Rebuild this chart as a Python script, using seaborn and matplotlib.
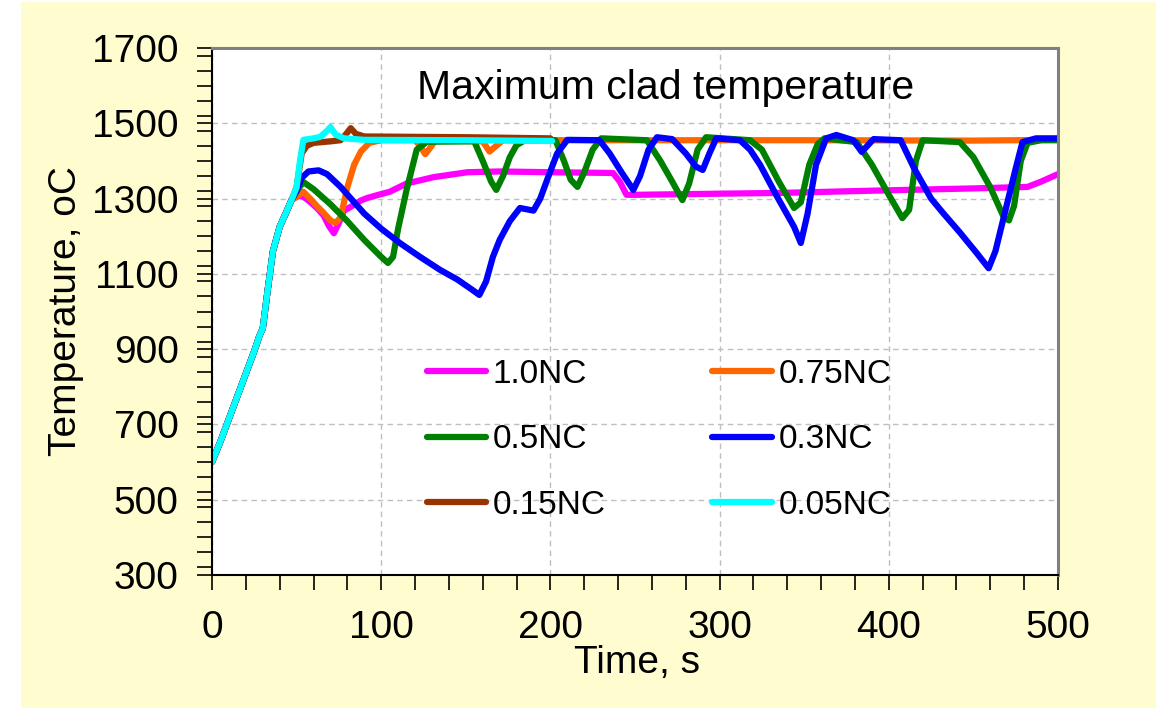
import numpy as np
import pandas as pd
import matplotlib
matplotlib.use("Agg")
import matplotlib.pyplot as plt
from matplotlib.patches import Rectangle
from matplotlib.lines import Line2D
from matplotlib.ticker import MultipleLocator
import seaborn as sns

# ---------------- data ----------------
rise_t = [0, 5, 10, 15, 20, 25, 28, 30, 33, 36, 40, 44, 47]
rise_T = [600, 655, 715, 775, 835, 895, 935, 955, 1060, 1160, 1225, 1265, 1296]

t_10 = [50, 53, 57, 62, 66, 69, 72, 75, 78, 82, 88, 92, 100, 105, 115, 131, 151, 170, 200,
        237, 241, 245, 250, 300, 336, 400, 450, 482, 490, 500]
T_10 = [1305, 1308, 1295, 1275, 1255, 1228, 1208, 1235, 1268, 1278, 1295, 1302, 1312, 1318,
        1340, 1357, 1370, 1372, 1370, 1368, 1345, 1310, 1310, 1313, 1315, 1322, 1327, 1331,
        1345, 1365]

t_075 = [50, 54, 58, 62, 66, 70, 73, 76, 80, 84, 88, 93, 100, 120, 123, 126, 129, 132, 160,
         164, 168, 172, 250, 350, 450, 500]
T_075 = [1305, 1318, 1300, 1280, 1262, 1242, 1235, 1250, 1330, 1390, 1425, 1448, 1455, 1455,
         1440, 1418, 1435, 1455, 1452, 1425, 1440, 1455, 1455, 1455, 1454, 1456]

t_05 = [50, 54, 60, 70, 80, 90, 100, 104, 107, 110, 115, 121, 127, 155, 160, 165, 168, 172,
        176, 180, 185, 203, 208, 212, 216, 220, 225, 230, 257, 265, 272, 278, 282, 287, 292,
        318, 325, 335, 344, 348, 353, 358, 362, 381, 390, 400, 408, 412, 416, 420, 442, 450,
        460, 468, 471, 474, 478, 482, 490, 500]
T_05 = [1320, 1344, 1325, 1285, 1240, 1190, 1145, 1129, 1145, 1220, 1323, 1430, 1451, 1452,
        1400, 1345, 1323, 1360, 1410, 1442, 1455, 1455, 1400, 1350, 1331, 1370, 1430, 1460,
        1455, 1400, 1345, 1296, 1340, 1430, 1463, 1455, 1430, 1345, 1275, 1290, 1390, 1445,
        1460, 1450, 1390, 1310, 1248, 1270, 1400, 1455, 1450, 1410, 1330, 1250, 1242, 1280,
        1400, 1448, 1455, 1455]

t_03 = [50, 53, 57, 63, 68, 76, 90, 100, 111, 123, 135, 145, 154, 158, 162, 166, 170, 176,
        182, 190, 194, 198, 204, 210, 229, 235, 242, 249, 253, 258, 263, 272, 280, 286, 290,
        294, 298, 312, 318, 324, 334, 344, 348, 352, 357, 363, 369, 379, 384, 391, 407, 415,
        425, 432, 442, 452, 459, 463, 470, 475, 479, 487, 500]
T_03 = [1320, 1355, 1372, 1375, 1365, 1331, 1260, 1220, 1182, 1145, 1110, 1085, 1057, 1044,
        1080, 1145, 1190, 1240, 1275, 1268, 1300, 1349, 1420, 1456, 1455, 1420, 1370, 1323,
        1360, 1430, 1463, 1458, 1420, 1385, 1376, 1420, 1460, 1455, 1430, 1389, 1305, 1225,
        1182, 1260, 1390, 1460, 1469, 1455, 1424, 1458, 1455, 1380, 1300, 1262, 1210, 1155,
        1115, 1160, 1288, 1380, 1450, 1460, 1460]

t_015 = [50, 53, 56, 60, 70, 76, 79, 82, 85, 90, 150, 200]
T_015 = [1330, 1420, 1440, 1448, 1452, 1455, 1470, 1487, 1472, 1465, 1463, 1460]

t_005 = [50, 52, 54, 60, 64, 68, 70, 73, 78, 90, 150, 201]
T_005 = [1330, 1400, 1456, 1460, 1464, 1480, 1490, 1470, 1460, 1456, 1455, 1453]

series_names = ["1.0NC", "0.75NC", "0.5NC", "0.3NC", "0.15NC", "0.05NC"]
series_colors = ["#FF00FF", "#FF6600", "#008000", "#0000FF", "#993300", "#00FFFF"]
y_ticks = [300, 500, 700, 900, 1100, 1300, 1500, 1700]
x_ticks = [0, 100, 200, 300, 400, 500]

# ---------------- build long table ----------------
parts = []
for name, tt, TT in zip(series_names,
                        [t_10, t_075, t_05, t_03, t_015, t_005],
                        [T_10, T_075, T_05, T_03, T_015, T_005]):
    parts.append(pd.DataFrame({"Time": rise_t + tt, "Temp": rise_T + TT, "Case": name}))
df = pd.concat(parts, ignore_index=True)

# ---------------- figure ----------------
sns.set_theme(style="white")
plt.rcParams["font.family"] = ["Liberation Sans", "DejaVu Sans"]
plt.rcParams["text.color"] = "black"

fig = plt.figure(figsize=(11.56, 7.08), dpi=100)
fig.patch.set_facecolor("white")
fig.patches.append(Rectangle((21 / 1156, 0), 1, 1 - 2 / 708, transform=fig.transFigure,
                             facecolor="#FFFDCF", edgecolor="none", zorder=-10))

ax = fig.add_axes([212 / 1156, 1 - 575 / 708, 846 / 1156, 527 / 708])
ax.set_facecolor("white")

palette = dict(zip(series_names, series_colors))
sns.lineplot(data=df, x="Time", y="Temp", hue="Case", hue_order=series_names,
             palette=palette, estimator=None, sort=False, linewidth=4.5,
             legend=False, ax=ax)
for ln in ax.lines:
    ln.set_solid_capstyle("round")
    ln.set_solid_joinstyle("round")

ax.set_xlim(0, 500)
ax.set_ylim(300, 1700)
ax.set_xticks(x_ticks)
ax.set_yticks(y_ticks)
ax.xaxis.set_minor_locator(MultipleLocator(20))
ax.yaxis.set_minor_locator(MultipleLocator(40))
ax.tick_params(axis="both", which="both", direction="out", length=11, width=1.2,
               color="black", labelsize=28, labelcolor="black")
ax.tick_params(axis="both", which="both", bottom=True, left=True, top=False, right=False)
ax.tick_params(axis="y", which="major", pad=13)
ax.tick_params(axis="x", which="major", pad=14)

ax.grid(True, which="major", color="#BFBFBF", linestyle=(0, (4, 3)), linewidth=1.0)
ax.set_axisbelow(True)

for s in ["left", "bottom"]:
    ax.spines[s].set_color("black")
    ax.spines[s].set_linewidth(1.5)
for s in ["top", "right"]:
    ax.spines[s].set_color("#808080")
    ax.spines[s].set_linewidth(2.2)

ax.set_xlabel("Time, s", fontsize=28, color="black")
ax.set_ylabel("Temperature, oC", fontsize=28, color="black")
ax.xaxis.set_label_coords(0.502, -0.132)
ax.yaxis.set_label_coords(-0.151, 0.5)

ax.text(0.536, 0.925, "Maximum clad temperature", transform=ax.transAxes,
        ha="center", va="center", fontsize=29.5, color="black")

# legend (2 columns, row-wise order as in the reference)
order = [0, 2, 4, 1, 3, 5]
handles = [Line2D([0], [0], color=series_colors[i], lw=4.5, solid_capstyle="round")
           for i in order]
labels = [series_names[i] for i in order]
ax.legend(handles, labels, ncol=2, frameon=False, fontsize=24, labelcolor="black",
          loc="upper left", bbox_to_anchor=(0.238, 0.436),
          handlelength=1.78, handletextpad=0.2, columnspacing=3.2,
          labelspacing=1.04, borderaxespad=0)

fig.savefig("out.png", dpi=100, facecolor=fig.get_facecolor())
